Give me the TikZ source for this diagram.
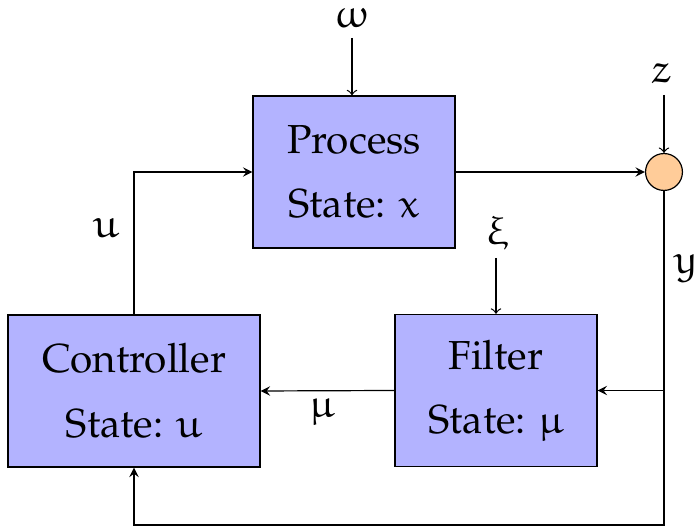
\documentclass[tikz,border=0pt]{standalone}
\usepackage[T1]{fontenc}
\usepackage{mathpazo}
\IfFileExists{euler.sty}{\usepackage{euler}}{}
\usetikzlibrary{arrows}
\definecolor{boxblue}{RGB}{179,179,255}
\definecolor{sumpeach}{RGB}{255,204,153}
\tikzset{
  block/.style={draw, fill=boxblue, inner sep=0pt, align=center,
    minimum width=67.3pt, minimum height=50.7pt,
    font=\fontsize{13.5}{21.5}\selectfont},
  sumnode/.style={draw, circle, fill=sumpeach, inner sep=0pt, minimum size=12.3pt},
  sig/.style={inner sep=0pt, font=\fontsize{13.5}{16}\selectfont},
  inarrow/.style={->},
  flow/.style={-stealth}
}
\begin{document}
\begin{tikzpicture}[x=0.3333pt, y=-0.3333pt]
  \useasboundingbox (0,0) rectangle (695,528);

  % blocks
  \node[block] (proc) at (354,172) {Process\\State: $x$};
  \node[block, minimum width=84pt] (ctrl) at (134,391) {Controller\\State: $u$};
  \node[block] (filt) at (496,390.5) {Filter\\State: $\mu$};
  \node[sumnode] (sum) at (664,172) {};

  % signal labels
  \node[sig] (w) at (352,18) {$\omega$};
  \node[sig] (z) at (661,73) {$z$};
  \node[sig] (xi) at (497,233) {$\xi$};
  \node[sig] (u) at (106,228) {$u$};
  \node[sig] (mu) at (322,412) {$\mu$};
  \node[sig] (y) at (686,268) {$y$};

  \coordinate (wtop) at (352,38);
  \coordinate (ztop) at (664,95);
  \coordinate (xitop) at (496,258);
  \coordinate (bottom) at (664,525);
  \coordinate (branch) at (664,390.5);

  % disturbances and noise
  \draw[inarrow] (wtop) -- (wtop |- proc.north);
  \draw[inarrow] (ztop) -- (sum.north);
  \draw[inarrow] (xitop) -- (filt.north);

  % loop
  \draw[flow] (proc.east) -- (sum.west);
  \draw[flow] (sum.south) -- (bottom) -| (ctrl.south);
  \draw[flow] (branch) -- (filt.east);
  \draw[flow] (filt.west) -- (ctrl.east);
  \draw[flow] (ctrl.north) |- (proc.west);
\end{tikzpicture}
\end{document}
